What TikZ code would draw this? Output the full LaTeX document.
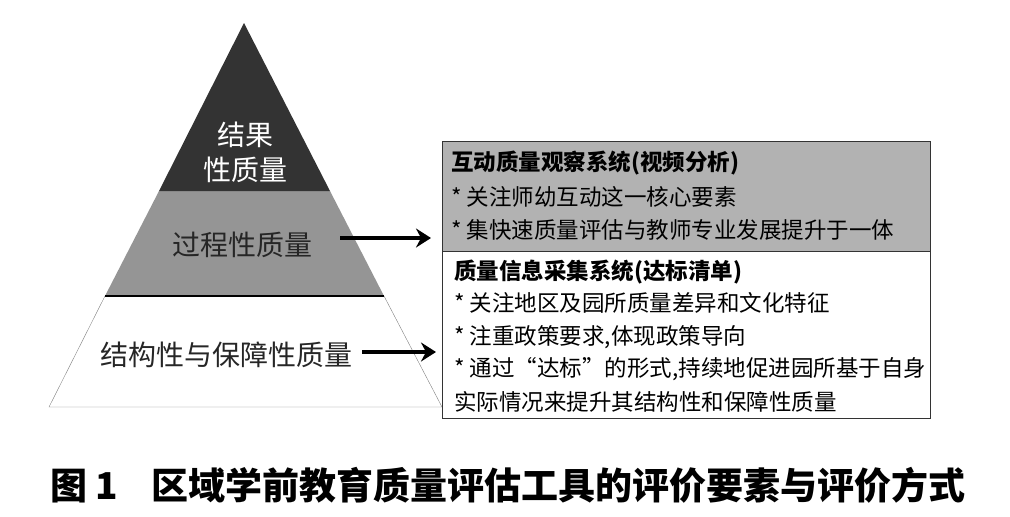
\documentclass[tikz,border=0pt]{standalone}
\usepackage{fontspec}
\setmainfont{Noto Sans CJK SC}
\usepackage{xcolor}
\usetikzlibrary{calc,arrows.meta}
\definecolor{topgray}{HTML}{333333}
\definecolor{midgray}{HTML}{959595}
\definecolor{boxgray}{HTML}{B2B2B2}
\newcommand{\boxfont}{\fontsize{22.5}{27}\selectfont}
\newcommand{\pyrfont}{\fontsize{28}{33}\selectfont}

\begin{document}
\begin{tikzpicture}[x=1pt,y=-1pt,>={Stealth[length=15pt,width=19pt,inset=5pt]}]
  \useasboundingbox (0,0) rectangle (1010,517);
  % pyramid corners
  \coordinate (P)  at (244,23);
  \coordinate (L1) at (159,191);
  \coordinate (R1) at (330,191);
  \coordinate (L2) at (105,296);
  \coordinate (R2) at (384,296);
  \coordinate (BL) at (49,407);
  \coordinate (BR) at (442,407);
  \fill[midgray] (L1)--(R1)--(R2)--(L2)--cycle;
  \fill[topgray] (P)--(R1)--(L1)--cycle;
  \draw[gray,thin] (L2)--(BL)--(BR)--(R2);
  \draw[black,line width=1.6pt] (L2)--(R2);
  \node[white,inner sep=0] (res1) at (245,135) {\pyrfont 结果};
  \node[white,inner sep=0] (res2) at (245,170) {\pyrfont 性质量};
  \node[black!85,inner sep=0] (proc) at (242,245) {\pyrfont 过程性质量};
  \node[black!85,inner sep=0] (stru) at (226,355) {\pyrfont 结构性与保障性质量};
  % boxes
  \coordinate (BoxNW) at (442,141);
  \coordinate (BoxMid) at (930,251);
  \coordinate (BoxSE) at (930,418);
  \fill[boxgray] (BoxNW) rectangle (BoxMid);
  \draw[black!80,thick] (BoxNW) rectangle (BoxSE);
  \draw[black!80,thick] (442,251)--(BoxMid);
  \node[anchor=west,inner sep=0] (t1) at (451,163) {\boxfont\bfseries 互动质量观察系统(视频分析)};
  \node[anchor=west,inner sep=0] (t2) at (451,197) {\boxfont * 关注师幼互动这一核心要素};
  \node[anchor=west,inner sep=0] (t3) at (451,230) {\boxfont * 集快速质量评估与教师专业发展提升于一体};
  \node[anchor=west,inner sep=0] (s1) at (454,272) {\boxfont\bfseries 质量信息采集系统(达标清单)};
  \node[anchor=west,inner sep=0] (s2) at (454,303) {\boxfont * 关注地区及园所质量差异和文化特征};
  \node[anchor=west,inner sep=0] (s3) at (454,337) {\boxfont * 注重政策要求,体现政策导向};
  \node[anchor=west,inner sep=0] (s4) at (454,369) {\boxfont * 通过“达标”的形式,持续地促进园所基于自身};
  \node[anchor=west,inner sep=0] (s5) at (454,402) {\boxfont 实际情况来提升其结构性和保障性质量};
  % arrows
  \coordinate (A1) at (340,238);
  \coordinate (A2) at (431,238);
  \coordinate (B1) at (362,352);
  \coordinate (B2) at (436,352);
  \draw[->,line width=4pt] (A1)--(A2);
  \draw[->,line width=4pt] (B1)--(B2);
  % caption
  \node[inner sep=0] (cap) at (508,485) {\fontsize{37}{40}\selectfont\bfseries 图 1\hspace{0.9em}区域学前教育质量评估工具的评价要素与评价方式};
\end{tikzpicture}
\end{document}
